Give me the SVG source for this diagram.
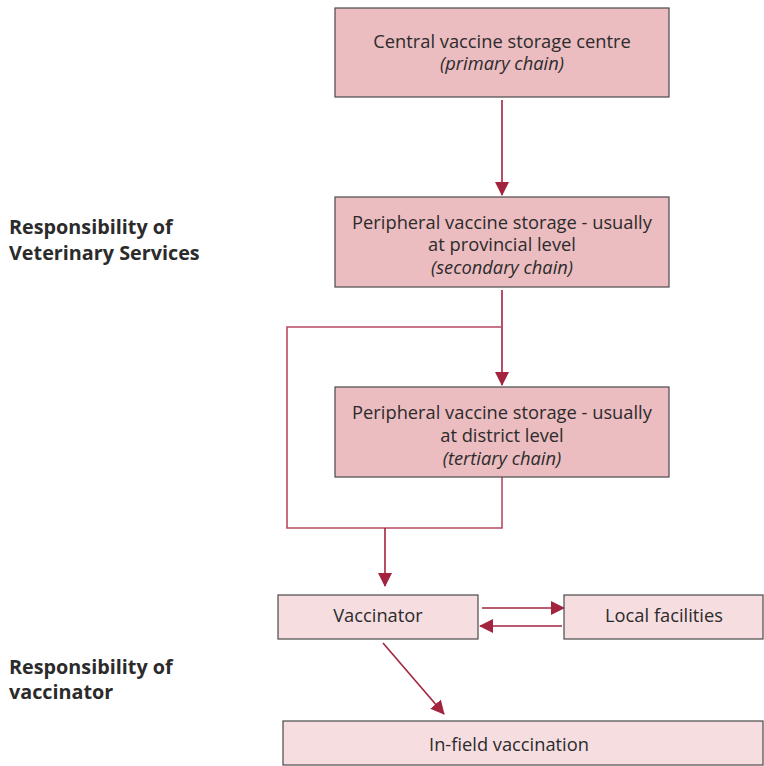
<svg xmlns="http://www.w3.org/2000/svg" width="764" height="766" viewBox="0 0 764 766">
<style>
.n1{fill:#ebbcc0;stroke:#4a4a4a;stroke-width:1.2}
.n2{fill:#f6dde0;stroke:#4a4a4a;stroke-width:1.2}
.t{font-family:"Open Sans","Noto Sans",sans-serif;font-size:18.3px;fill:#2b2b2b;text-anchor:middle}
.i{font-style:italic}
.lb{font-family:"Open Sans","Noto Sans",sans-serif;font-size:19.8px;font-weight:bold;fill:#2b2b2b}
.c{fill:none;stroke:#a3243f;stroke-width:1.6}
.l{fill:none;stroke:#b84a62;stroke-width:1.6}
</style>
<defs>
<marker id="ahb" markerWidth="14" markerHeight="14" refX="13" refY="7" orient="auto" markerUnits="userSpaceOnUse" viewBox="0 0 14 14">
<path d="M0,0 L14,7 L0,14 Z" fill="#a3243f"/>
</marker>
</defs>
<text class="lb" x="9" y="234">Responsibility of</text>
<text class="lb" x="9" y="260">Veterinary Services</text>
<text class="lb" x="9" y="674">Responsibility of</text>
<text class="lb" x="9" y="699">vaccinator</text>
<g id="connectors">
<path class="c" d="M502,100 V195" marker-end="url(#ahb)"/>
<path class="c" d="M502,290 V385" marker-end="url(#ahb)"/>
<path class="l" d="M502,327 H287 V528 H502 V477"/>
<path class="c" d="M385,528 V586" marker-end="url(#ahb)"/>
<path class="c" d="M482,608 H564" marker-end="url(#ahb)"/>
<path class="c" d="M562,626 H480" marker-end="url(#ahb)"/>
<path class="c" d="M383,643 L444,714" marker-end="url(#ahb)"/>
</g>
<g id="central">
<rect class="n1" x="335" y="8" width="334" height="89"/>
<text class="t" x="502" y="48">Central vaccine storage centre</text>
<text class="t i" x="502" y="70">(primary chain)</text>
</g>
<g id="provincial">
<rect class="n1" x="335" y="197" width="334" height="90"/>
<text class="t" x="502" y="229">Peripheral vaccine storage - usually</text>
<text class="t" x="502" y="251">at provincial level</text>
<text class="t i" x="502" y="274">(secondary chain)</text>
</g>
<g id="district">
<rect class="n1" x="335" y="387" width="334" height="90"/>
<text class="t" x="502" y="419">Peripheral vaccine storage - usually</text>
<text class="t" x="502" y="442">at district level</text>
<text class="t i" x="502" y="465">(tertiary chain)</text>
</g>
<g id="vaccinator">
<rect class="n2" x="278" y="595" width="200" height="44"/>
<text class="t" x="378" y="622">Vaccinator</text>
</g>
<g id="local">
<rect class="n2" x="564" y="595" width="199" height="44"/>
<text class="t" x="664" y="622">Local facilities</text>
</g>
<g id="infield">
<rect class="n2" x="283" y="721" width="480" height="44"/>
<text class="t" x="509" y="751">In-field vaccination</text>
</g>
</svg>
